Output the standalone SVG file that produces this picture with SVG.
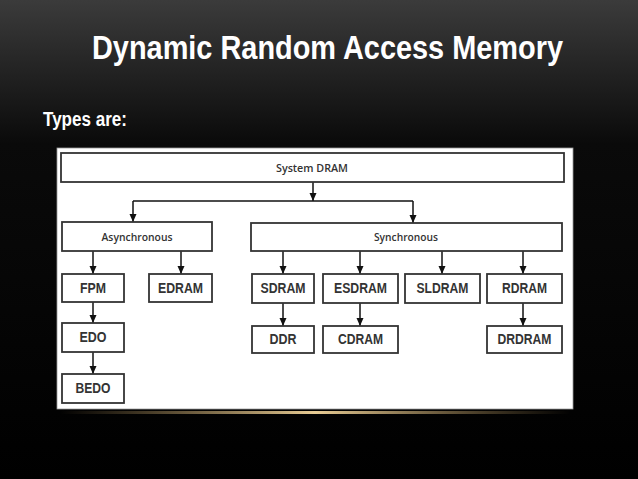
<svg xmlns="http://www.w3.org/2000/svg" width="638" height="479" viewBox="0 0 638 479">
<defs>
<linearGradient id="bg" x1="0" y1="0" x2="0" y2="1">
<stop offset="0" stop-color="#3b3b3b"/>
<stop offset="0.3" stop-color="#0a0a0a"/>
<stop offset="1" stop-color="#000"/>
</linearGradient>
<linearGradient id="gold" x1="0" y1="0" x2="1" y2="0">
<stop offset="0" stop-color="#b8955a" stop-opacity="0"/>
<stop offset="0.5" stop-color="#e8cc94" stop-opacity="1"/>
<stop offset="1" stop-color="#b8955a" stop-opacity="0"/>
</linearGradient>
<marker id="ah" markerUnits="userSpaceOnUse" markerWidth="8" markerHeight="8" viewBox="0 0 8 8" refX="8" refY="4" orient="auto">
<path d="M0,0.5 L8,4 L0,7.5 Z" fill="#111"/>
</marker>
<style>
.box{fill:#fff;stroke:#333;stroke-width:1.8}
.c{fill:none;stroke:#111;stroke-width:1.5}
.ca{fill:none;stroke:#111;stroke-width:1.5;marker-end:url(#ah)}
.lb{font-family:"Liberation Sans",Arial,sans-serif;font-weight:bold;font-size:14px;fill:#333;text-anchor:middle}
.ls{font-family:"Open Sans","Noto Sans",sans-serif;font-weight:600;font-size:11px;fill:#333;text-anchor:middle}
.tt{font-family:"Liberation Sans",Arial,sans-serif;font-weight:bold;fill:#fff}
</style>
</defs>
<rect x="0" y="0" width="638" height="479" fill="url(#bg)"/>
<text class="tt" x="92" y="59" font-size="33" textLength="471" lengthAdjust="spacingAndGlyphs">Dynamic Random Access Memory</text>
<text class="tt" x="43" y="126" font-size="19.5" textLength="84" lengthAdjust="spacingAndGlyphs">Types are:</text>
<rect x="57" y="148" width="516" height="261" fill="#fff" stroke="#999" stroke-width="0.8"/>
<rect x="60" y="411" width="510" height="3" fill="url(#gold)"/>

<g id="connectors">
<line class="ca" x1="313" y1="182" x2="313" y2="201"/>
<line class="c" x1="133" y1="201" x2="413" y2="201"/>
<line class="ca" x1="133" y1="201" x2="133" y2="222"/>
<line class="ca" x1="413" y1="201" x2="413" y2="223"/>
<line class="ca" x1="93" y1="251" x2="93" y2="274"/>
<line class="ca" x1="181" y1="251" x2="181" y2="274"/>
<line class="ca" x1="283" y1="251" x2="283" y2="274"/>
<line class="ca" x1="360" y1="251" x2="360" y2="274"/>
<line class="ca" x1="442" y1="251" x2="442" y2="274"/>
<line class="ca" x1="523" y1="251" x2="523" y2="274"/>
<line class="ca" x1="93" y1="302" x2="93" y2="323"/>
<line class="ca" x1="93" y1="352" x2="93" y2="374"/>
<line class="ca" x1="283" y1="303" x2="283" y2="326"/>
<line class="ca" x1="360" y1="303" x2="360" y2="326"/>
<line class="ca" x1="523" y1="303" x2="523" y2="326"/>
</g>

<g id="system-dram"><rect class="box" x="61" y="153" width="503" height="29"/><text class="ls" x="312" y="172" textLength="72" lengthAdjust="spacingAndGlyphs">System DRAM</text></g>
<g id="asynchronous"><rect class="box" x="62" y="222" width="150" height="29"/><text class="ls" x="137" y="241" textLength="71" lengthAdjust="spacingAndGlyphs">Asynchronous</text></g>
<g id="synchronous"><rect class="box" x="251" y="223" width="311" height="28"/><text class="ls" x="406" y="241" textLength="64" lengthAdjust="spacingAndGlyphs">Synchronous</text></g>

<g id="fpm"><rect class="box" x="62" y="274" width="62" height="28"/><text class="lb" x="93" y="293" textLength="26" lengthAdjust="spacingAndGlyphs">FPM</text></g>
<g id="edram"><rect class="box" x="149" y="274" width="63" height="28"/><text class="lb" x="180.5" y="293" textLength="45" lengthAdjust="spacingAndGlyphs">EDRAM</text></g>
<g id="sdram"><rect class="box" x="252" y="274" width="62" height="29"/><text class="lb" x="283" y="293" textLength="45" lengthAdjust="spacingAndGlyphs">SDRAM</text></g>
<g id="esdram"><rect class="box" x="323" y="274" width="75" height="29"/><text class="lb" x="360.5" y="293" textLength="53" lengthAdjust="spacingAndGlyphs">ESDRAM</text></g>
<g id="sldram"><rect class="box" x="405" y="274" width="75" height="29"/><text class="lb" x="442.5" y="293" textLength="52" lengthAdjust="spacingAndGlyphs">SLDRAM</text></g>
<g id="rdram"><rect class="box" x="487" y="274" width="75" height="29"/><text class="lb" x="524.5" y="293" textLength="45" lengthAdjust="spacingAndGlyphs">RDRAM</text></g>

<g id="edo"><rect class="box" x="62" y="323" width="62" height="29"/><text class="lb" x="93" y="342" textLength="27" lengthAdjust="spacingAndGlyphs">EDO</text></g>
<g id="ddr"><rect class="box" x="252" y="326" width="62" height="27"/><text class="lb" x="283" y="344" textLength="27" lengthAdjust="spacingAndGlyphs">DDR</text></g>
<g id="cdram"><rect class="box" x="323" y="326" width="75" height="27"/><text class="lb" x="360.5" y="344" textLength="45" lengthAdjust="spacingAndGlyphs">CDRAM</text></g>
<g id="drdram"><rect class="box" x="487" y="326" width="75" height="27"/><text class="lb" x="524.5" y="344" textLength="54" lengthAdjust="spacingAndGlyphs">DRDRAM</text></g>

<g id="bedo"><rect class="box" x="62" y="374" width="62" height="29"/><text class="lb" x="93" y="393" textLength="35" lengthAdjust="spacingAndGlyphs">BEDO</text></g>
</svg>
